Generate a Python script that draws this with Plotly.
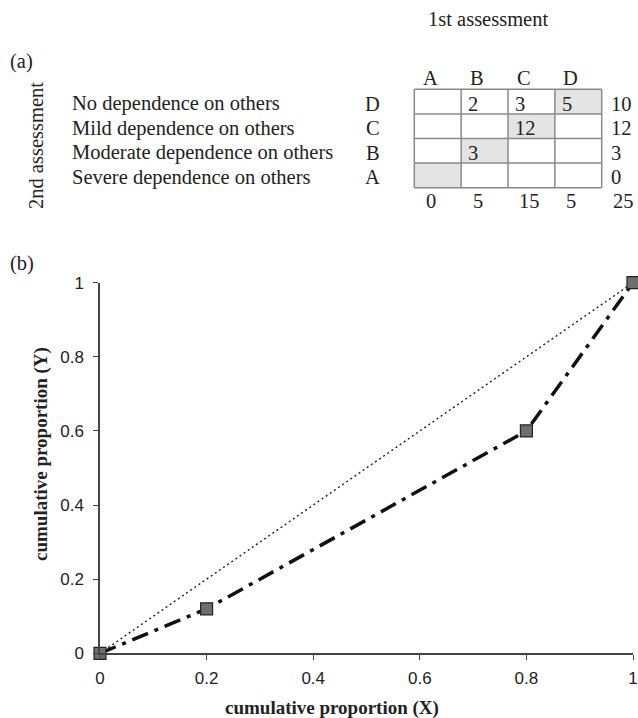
import plotly.graph_objects as go

# ---------------- data ----------------
first_cats = ["A", "B", "C", "D"]                 # 1st assessment (columns)
second_cats = ["D", "C", "B", "A"]                # 2nd assessment (rows, top to bottom)
second_labels = ["No dependence on others",
                 "Mild dependence on others",
                 "Moderate dependence on others",
                 "Severe dependence on others"]
counts = [[None, 2, 3, 5],
          [None, None, 12, None],
          [None, 3, None, None],
          [None, None, None, None]]
row_totals = [10, 12, 3, 0]
col_totals = [0, 5, 15, 5]
grand_total = 25

cum_x = [0, 0.2, 0.8, 1.0]
cum_y = [0, 0.12, 0.6, 1.0]
equal_x = [0, 0.2, 0.8, 1.0]
equal_y = [0, 0.2, 0.8, 1.0]
x_ticks = [0, 0.2, 0.4, 0.6, 0.8, 1]
y_ticks = [0, 0.2, 0.4, 0.6, 0.8, 1]

# ---------------- layout helpers ----------------
W, H = 638, 718
def px(x): return min(max(x / W, 0), 1)
def py(y): return min(max(1 - y / H, 0), 1)

SERIF = "Liberation Serif, Times New Roman, serif"
SANS = "Liberation Sans, Arial, sans-serif"
TXT = "#222222"

n_cols = len(first_cats)
n_rows = len(second_cats)

# table geometry (target pixels)
T_LEFT, T_RIGHT, T_TOP, T_BOT = 414.3, 601.7, 89.3, 187.7
cw = (T_RIGHT - T_LEFT) / n_cols
rh = (T_BOT - T_TOP) / n_rows
X2_RANGE = [-0.5, 4.7]
Y2_RANGE = [-1.0, 5.0]

fig = go.Figure()

# ---------------- (b) chart ----------------
fig.add_trace(go.Scatter(
    x=equal_x, y=equal_y, mode="lines",
    line=dict(color="#222222", width=1.4, dash="2px,3px"),
    cliponaxis=False, showlegend=False, hoverinfo="skip"))
fig.add_trace(go.Scatter(
    x=cum_x, y=cum_y, mode="lines+markers",
    line=dict(color="#111111", width=3.5, dash="17px,7px,4px,7px"),
    marker=dict(symbol="square", size=12, color="#6e6e6e",
                line=dict(color="#222222", width=1.2)),
    cliponaxis=False, showlegend=False))

# ---------------- (a) table ----------------
shade = [[1 if (second_cats[r] == first_cats[c]) else 0 for c in range(n_cols)]
         for r in range(n_rows)]
fig.add_trace(go.Heatmap(
    z=shade, x=[c + 0.5 for c in range(n_cols)],
    y=[n_rows - r - 0.5 for r in range(n_rows)],
    zmin=0, zmax=1, colorscale=[[0, "white"], [1, "#e4e4e4"]],
    showscale=False, hoverinfo="skip", xaxis="x2", yaxis="y2"))

gx, gy = [], []
for c in range(n_cols + 1):
    gx += [c, c, None]
    gy += [0, n_rows, None]
for r in range(n_rows + 1):
    gx += [0, n_cols, None]
    gy += [r, r, None]
fig.add_trace(go.Scatter(
    x=gx, y=gy, mode="lines", line=dict(color="#8a8a8a", width=1.5),
    xaxis="x2", yaxis="y2", showlegend=False, hoverinfo="skip",
    cliponaxis=False))

ann = []
tfont = dict(family=SERIF, size=20.5, color=TXT)
def A(**kw):
    d = dict(showarrow=False, xanchor="center", yanchor="middle", font=tfont)
    d.update(kw)
    ann.append(d)

# column headers
for c, lab in enumerate(first_cats):
    A(x=c + 0.34, y=n_rows + 0.45, xref="x2", yref="y2", text=lab)
# cell values, row totals, row labels
for r in range(n_rows):
    yc = n_rows - r - 0.5
    for c in range(n_cols):
        v = counts[r][c]
        if v is not None:
            A(x=c + 0.1, y=yc, xref="x2", yref="y2",
              text=str(v), xanchor="left", yshift=-2)
    A(x=n_cols + 0.15, y=yc, xref="x2", yref="y2",
      text=str(row_totals[r]), xanchor="left", yshift=-2)
    A(x=px(70), y=yc, xref="paper", yref="y2",
      text=second_labels[r], xanchor="left", yshift=-2)
    A(x=px(382), y=yc, xref="paper", yref="y2",
      text=second_cats[r], xanchor="right", yshift=-2)
# column totals
for c in range(n_cols):
    A(x=c + 0.2, y=-0.55, xref="x2", yref="y2", text=str(col_totals[c]),
      xanchor="left")
A(x=n_cols + 0.19, y=-0.55, xref="x2", yref="y2", text=str(grand_total),
  xanchor="left")

# titles / panel labels
A(x=px(488), y=py(19), xref="paper", yref="paper", text="1st assessment")
A(x=px(8), y=py(61), xref="paper", yref="paper", text="(a)", xanchor="left")
A(x=px(36), y=py(146), xref="paper", yref="paper", text="2nd assessment",
  textangle=-90)
A(x=px(8), y=py(263), xref="paper", yref="paper", text="(b)", xanchor="left")
A(x=px(332), y=py(708), xref="paper", yref="paper",
  text="<b>cumulative proportion (X)</b>",
  font=dict(family=SERIF, size=19, color=TXT))
A(x=px(41), y=py(454), xref="paper", yref="paper",
  text="<b>cumulative proportion (Y)</b>", textangle=-90,
  font=dict(family=SERIF, size=19, color=TXT))

axis_common = dict(showgrid=False, zeroline=False, showline=True,
                   linecolor="#444444", linewidth=1.5, ticks="outside",
                   ticklen=5, tickcolor="#444444", tickwidth=1.2,
                   automargin=False,
                   tickfont=dict(family=SANS, size=17, color=TXT))

fig.update_layout(
    width=W, height=H,
    margin=dict(l=0, r=0, t=0, b=0, pad=0, autoexpand=False),
    paper_bgcolor="white", plot_bgcolor="white",
    xaxis=dict(domain=[px(100), px(633)], range=[0, 1], tickvals=x_ticks,
               ticktext=[f"{v:g}" for v in x_ticks], anchor="y",
               ticklabelstandoff=4, **axis_common),
    yaxis=dict(domain=[py(653.3), py(282.7)], range=[0, 1], tickvals=y_ticks,
               ticktext=[f"{v:g}" for v in y_ticks], anchor="x",
               ticklabelstandoff=6, **axis_common),
    xaxis2=dict(domain=[px(T_LEFT + X2_RANGE[0] * cw), px(T_LEFT + X2_RANGE[1] * cw)],
                range=X2_RANGE, visible=False, anchor="y2", fixedrange=True),
    yaxis2=dict(domain=[py(T_BOT - Y2_RANGE[0] * rh), py(T_BOT - Y2_RANGE[1] * rh)],
                range=Y2_RANGE, visible=False, anchor="x2", fixedrange=True),
    annotations=ann,
    showlegend=False,
)

fig.write_html(
    "out.html",
    config={"displayModeBar": False},
    post_script="document.body.style.margin='0px';"
                "document.body.style.overflow='hidden';",
)
